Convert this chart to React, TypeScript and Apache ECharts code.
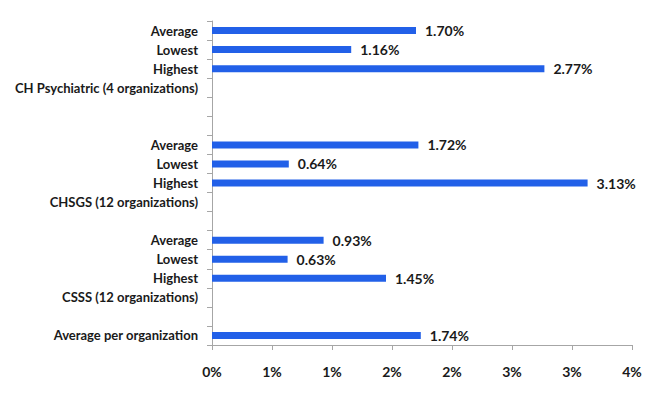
import React, { useEffect, useRef } from "react";
import * as echarts from "echarts";

// Categories listed top to bottom
const categoryLabels: string[] = [
  "Average",
  "Lowest",
  "Highest",
  "CH Psychiatric (4 organizations)",
  "",
  "",
  "Average",
  "Lowest",
  "Highest",
  "CHSGS (12 organizations)",
  "",
  "Average",
  "Lowest",
  "Highest",
  "CSSS (12 organizations)",
  "",
  "Average per organization",
];

// Values (percent), same order; null = no bar
const values: (number | null)[] = [
  1.7, 1.16, 2.77, null, null, null,
  1.72, 0.64, 3.13, null, null,
  0.93, 0.63, 1.45, null, null,
  1.74,
];

const xMin = 0;
const xMax = 3.5;
const xInterval = 0.5;

export default function App() {
  const ref = useRef<HTMLDivElement>(null);
  useEffect(() => {
    if (!ref.current) return;
    const chart = echarts.init(ref.current, undefined, { renderer: "svg" });
    // bottom to top for ECharts category axis
    const ids = categoryLabels.map((_, i) => "c" + i).reverse();
    const labelById: Record<string, string> = {};
    categoryLabels.forEach((l, i) => (labelById["c" + i] = l));
    const data = values.slice().reverse();
    const font = "Lato, 'Open Sans', sans-serif";
    chart.setOption({
      animation: false,
      backgroundColor: "#ffffff",
      grid: { left: 212, right: 28, top: 21, bottom: 54, containLabel: false },
      xAxis: {
        type: "value",
        min: xMin,
        max: xMax,
        interval: xInterval,
        splitLine: { show: false },
        axisLine: { show: true, lineStyle: { color: "#A6A6A6", width: 1 } },
        axisTick: { show: true, length: 5, lineStyle: { color: "#A6A6A6" } },
        axisLabel: {
          margin: 19,
          color: "#1a1a1a",
          fontFamily: font,
          fontWeight: "bold",
          fontSize: 14,
          formatter: (v: number) => Math.round(v) + "%",
        },
      },
      yAxis: {
        type: "category",
        data: ids,
        axisLine: { show: true, lineStyle: { color: "#A6A6A6", width: 1 } },
        axisTick: { show: true, length: 5, alignWithLabel: false, lineStyle: { color: "#A6A6A6" } },
        axisLabel: {
          margin: 14,
          color: "#1a1a1a",
          fontFamily: font,
          fontWeight: "bold",
          fontSize: 13,
          interval: 0,
          formatter: (v: string) => labelById[v] ?? "",
        },
      },
      series: [
        {
          type: "bar",
          data: data,
          barWidth: 7,
          itemStyle: { color: "#2260E8" },
          label: {
            show: true,
            position: "right",
            distance: 9,
            color: "#1a1a1a",
            fontFamily: font,
            fontWeight: "bold",
            fontSize: 14,
            formatter: (p: any) => (p.value == null ? "" : p.value.toFixed(2) + "%"),
          },
        },
      ],
    });
    return () => chart.dispose();
  }, []);
  return <div ref={ref} style={{ width: 660, height: 399, position: "absolute", left: 0, top: 0 }} />;
}
